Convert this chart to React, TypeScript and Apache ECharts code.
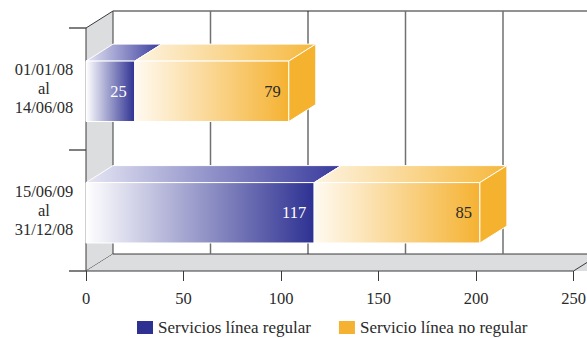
import React, { useEffect, useRef } from "react";
import * as echarts from "echarts";

const categories = ["01/01/08\nal\n14/06/08", "15/06/09\nal\n31/12/08"];
const regular = [25, 117];
const noRegular = [79, 85];
const seriesNames = ["Servicios línea regular", "Servicio línea no regular"];
const gridTicks = [50, 100, 150, 200];
const xMax = 250;
const xInterval = 50;

const DX = 27;
const DY = -17;
const FONT = "Liberation Serif";

function renderDecor(params: any, api: any) {
  const cs = params.coordSys;
  const x0 = cs.x;
  const top = cs.y;
  const bot = cs.y + cs.height;
  const right = cs.x + cs.width;
  const children: any[] = [];
  children.push({
    type: "polygon",
    shape: { points: [[x0, top], [x0 + DX, top + DY], [x0 + DX, bot + DY], [x0, bot]] },
    style: { fill: "#dcdddf", stroke: "#3a3a3a", lineWidth: 1 },
  });
  children.push({
    type: "polygon",
    shape: { points: [[x0, bot], [x0 + DX, bot + DY], [right + DX + 40, bot + DY], [right + 40, bot]] },
    style: { fill: "#dcdddf", stroke: "none" },
  });
  children.push({
    type: "polyline",
    shape: { points: [[x0, bot], [right, bot], [right + DX, bot + DY]] },
    style: { stroke: "#3a3a3a", lineWidth: 1, fill: "none" },
  });
  children.push({
    type: "line",
    shape: { x1: x0 + DX, y1: bot + DY, x2: right + DX + 40, y2: bot + DY },
    style: { stroke: "#3a3a3a", lineWidth: 1 },
  });
  children.push({
    type: "line",
    shape: { x1: x0 + DX, y1: top + DY, x2: right + DX + 40, y2: top + DY },
    style: { stroke: "#6e6e6e", lineWidth: 1.5 },
  });
  gridTicks.forEach((v) => {
    const x = api.coord([v, 0])[0] + DX;
    children.push({
      type: "line",
      shape: { x1: x, y1: top + DY, x2: x, y2: bot + DY },
      style: { stroke: v === 100 ? "#222" : "#707070", lineWidth: v === 100 ? 1 : 1.5 },
    });
  });
  return { type: "group", children };
}

function makeBarRenderer(kind: number) {
  return function (params: any, api: any) {
    const end = api.value(0);
    const cat = api.value(1);
    const start = api.value(2);
    const pe = api.coord([end, cat]);
    const ps = api.coord([start, cat]);
    const band = api.size([0, 1])[1];
    const h = band * 0.497;
    const cy = pe[1] + band * 0.021;
    const y1 = cy - h / 2;
    const y2 = cy + h / 2;
    const xs = ps[0];
    const xe = pe[0];
    const isBlue = kind === 0;
    const frontFill = new echarts.graphic.LinearGradient(0, 0, 1, 0, isBlue
      ? [{ offset: 0, color: "#ffffff" }, { offset: 1, color: "#2e3192" }]
      : [{ offset: 0, color: "#fffaf1" }, { offset: 1, color: "#f5b232" }]);
    const topFill = new echarts.graphic.LinearGradient(0, 0, 1, 0, isBlue
      ? [{ offset: 0, color: "#e6e6f4" }, { offset: 1, color: "#383a9c" }]
      : [{ offset: 0, color: "#fdf4e2" }, { offset: 1, color: "#f6b83d" }]);
    const children: any[] = [];
    children.push({
      type: "polygon",
      shape: { points: [[xs, y1], [xe, y1], [xe + DX, y1 + DY], [xs + DX, y1 + DY]] },
      style: { fill: topFill, stroke: "#ffffff", lineWidth: 1 },
    });
    children.push({
      type: "polygon",
      shape: { points: [[xs, y1], [xe, y1], [xe, y2], [xs, y2]] },
      style: { fill: frontFill, stroke: "#ffffff", lineWidth: 1 },
    });
    if (!isBlue) {
      children.push({
        type: "polygon",
        shape: { points: [[xe, y1], [xe + DX, y1 + DY], [xe + DX, y2 + DY], [xe, y2]] },
        style: { fill: "#f4b22f", stroke: "#ffffff", lineWidth: 1 },
      });
    }
    children.push({
      type: "text",
      style: {
        text: String(end - start),
        x: xe - 8,
        y: cy,
        align: "right",
        verticalAlign: "middle",
        fill: isBlue ? "#ffffff" : "#2a2a2a",
        fontSize: 16.5,
        fontFamily: FONT,
      },
    });
    return { type: "group", children };
  };
}

export default function App() {
  const ref = useRef<HTMLDivElement>(null);
  useEffect(() => {
    if (!ref.current) return;
    const chart = echarts.init(ref.current, null, { renderer: "svg" });
    const blueData = regular.map((v, i) => ({ value: [v, i, 0] }));
    const orangeData = noRegular.map((v, i) => ({ value: [regular[i] + v, i, regular[i]] }));
    chart.setOption({
      animation: false,
      backgroundColor: "#ffffff",
      textStyle: { fontFamily: FONT },
      grid: { left: 86, right: 13.5, top: 28, bottom: 67, outerBoundsMode: "none", containLabel: false },
      legend: {
        data: seriesNames,
        left: 137,
        top: 319,
        padding: 0,
        icon: "rect",
        itemWidth: 16,
        itemHeight: 13,
        itemGap: 28,
        textStyle: { fontFamily: FONT, fontSize: 17, color: "#2a2a2a" },
      },
      xAxis: {
        type: "value",
        min: 0,
        max: xMax,
        interval: xInterval,
        axisLine: { show: false },
        axisTick: { show: true, length: 10, lineStyle: { color: "#3a3a3a", width: 1 } },
        splitLine: { show: false },
        axisLabel: { fontFamily: FONT, fontSize: 16.5, color: "#2a2a2a", margin: 19 },
      },
      yAxis: {
        type: "category",
        data: categories,
        inverse: true,
        axisLine: { show: false },
        axisTick: { show: true, length: 17, lineStyle: { color: "#555", width: 1.5 } },
        axisLabel: {
          fontFamily: FONT,
          fontSize: 16.5,
          color: "#2a2a2a",
          lineHeight: 19,
          align: "center",
          margin: 42,
          padding: [2, 0, 0, 0],
        },
      },
      series: [
        {
          type: "custom",
          name: "decor",
          renderItem: renderDecor,
          data: [[0, 0]],
          encode: { x: 0, y: 1 },
          z: 1,
          silent: true,
        },
        {
          type: "custom",
          name: seriesNames[0],
          renderItem: makeBarRenderer(0),
          data: blueData,
          encode: { x: 0, y: 1 },
          itemStyle: { color: "#2e3192" },
          z: 3,
        },
        {
          type: "custom",
          name: seriesNames[1],
          renderItem: makeBarRenderer(1),
          data: orangeData,
          encode: { x: 0, y: 1 },
          itemStyle: { color: "#f5b232" },
          z: 4,
        },
      ],
    });
    return () => chart.dispose();
  }, []);
  return <div ref={ref} style={{ width: 587, height: 338, position: "absolute", left: 0, top: 0 }} />;
}
